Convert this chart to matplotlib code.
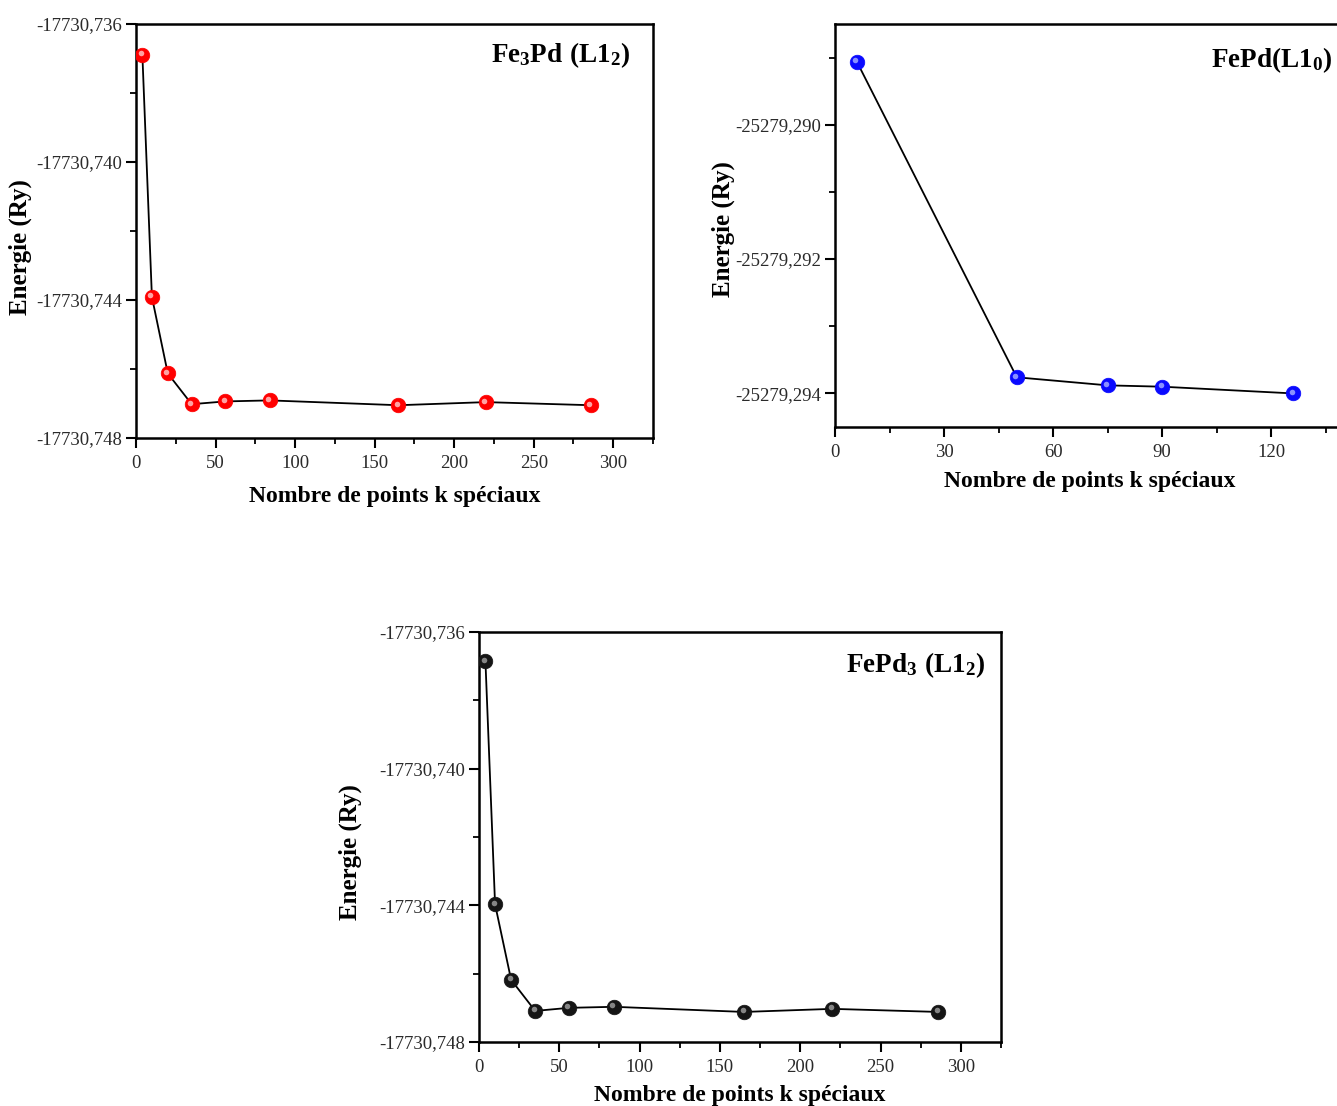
import matplotlib
matplotlib.use("Agg")
import matplotlib.pyplot as plt
from matplotlib.ticker import FixedLocator, FixedFormatter
from matplotlib.transforms import offset_copy

# ---------------- data ----------------
k_fe3pd = [4, 10, 20, 35, 56, 84, 165, 220, 286]
e_fe3pd = [-17730.73689, -17730.74391, -17730.74613, -17730.74702, -17730.74694,
           -17730.74691, -17730.74705, -17730.74696, -17730.74705]

k_fepd = [6, 50, 75, 90, 126]
e_fepd = [-25279.28906, -25279.29376, -25279.29388, -25279.29390, -25279.29400]

k_fepd3 = [4, 10, 20, 35, 56, 84, 165, 220, 286]
e_fepd3 = [-17730.73685, -17730.74397, -17730.74618, -17730.74709, -17730.74700,
           -17730.74697, -17730.74712, -17730.74703, -17730.74712]

ytick_a = [-17730.748, -17730.744, -17730.740, -17730.736]
ytick_a_labels = ["-17730,748", "-17730,744", "-17730,740", "-17730,736"]
yminor_a = [-17730.746, -17730.742, -17730.738]
xtick_a = [0, 50, 100, 150, 200, 250, 300]
xminor_a = [25, 75, 125, 175, 225, 275, 325]

ytick_b = [-25279.294, -25279.292, -25279.290]
ytick_b_labels = ["-25279,294", "-25279,292", "-25279,290"]
yminor_b = [-25279.293, -25279.291, -25279.289]
xtick_b = [0, 30, 60, 90, 120]
xminor_b = [15, 45, 75, 105, 135]

titles = [r"$Fe_3Pd\ (L1_2)$", r"$FePd(L1_0)$", r"$FePd_3\ (L1_2)$"]
xlabel = "Nombre de points k spéciaux"
ylabel = "Energie (Ry)"

# ---------------- style ----------------
plt.rcParams['font.family'] = ['Liberation Serif', 'DejaVu Serif']
plt.rcParams['mathtext.fontset'] = 'custom'
plt.rcParams['mathtext.rm'] = 'Liberation Serif:bold'
plt.rcParams['mathtext.bf'] = 'Liberation Serif:bold'
plt.rcParams['mathtext.it'] = 'Liberation Serif:bold'
plt.rcParams['mathtext.default'] = 'bf'

W, H = 1337, 1106
fig = plt.figure(figsize=(W / 100, H / 100), dpi=100)


def make_axes(rect, xs, ys, color, hl, xlim, ylim, xt, xm, yt, ytl, ym,
              title, tpos, ylab_x, ylab_y, xlab_y):
    ax = fig.add_axes(rect)
    ax.plot(xs, ys, color='black', lw=1.3, zorder=2)
    ax.plot(xs, ys, ls='none', marker='o', ms=10.5, mfc=color,
            mec=color, mew=0.5, zorder=3)
    tr = offset_copy(ax.transData, fig=fig, x=-1.5, y=1.5, units='dots')
    ax.plot(xs, ys, ls='none', marker='o', ms=4, mfc=hl, mec='none',
            alpha=0.85, transform=tr, zorder=4)
    ax.set_xlim(*xlim)
    ax.set_ylim(*ylim)
    ax.xaxis.set_major_locator(FixedLocator(xt))
    ax.xaxis.set_minor_locator(FixedLocator(xm))
    ax.yaxis.set_major_locator(FixedLocator(yt))
    ax.yaxis.set_major_formatter(FixedFormatter(ytl))
    ax.yaxis.set_minor_locator(FixedLocator(ym))
    ax.tick_params(which='major', direction='out', length=7, width=1.5,
                   labelsize=13.5, labelcolor='#2a2a2a')
    ax.tick_params(which='minor', direction='out', length=4, width=1.3)
    ax.tick_params(axis='y', which='major', pad=3)
    ax.tick_params(axis='x', which='major', pad=5)
    for s in ax.spines.values():
        s.set_linewidth(1.8)
    ax.set_xlabel(xlabel, fontsize=17, fontweight='bold')
    ax.set_ylabel(ylabel, fontsize=18, fontweight='bold')
    ax.yaxis.set_label_coords(ylab_x, ylab_y)
    ax.xaxis.set_label_coords(0.5, xlab_y)
    ax.text(tpos[0], tpos[1], title, transform=ax.transAxes, ha='right',
            va='center', fontsize=19.5)
    return ax


make_axes([136 / W, 1 - 438 / H, 517 / W, 414 / H], k_fe3pd, e_fe3pd,
          '#ff0000', '#ffc0c0', (0, 325), (-17730.748, -17730.736),
          xtick_a, xminor_a, ytick_a, ytick_a_labels, yminor_a,
          titles[0], (0.955, 0.925), -0.201, 0.46, -0.115)

make_axes([835 / W, 1 - 427 / H, 509 / W, 403 / H], k_fepd, e_fepd,
          '#0a0aff', '#a0a8ff', (0, 140), (-25279.2945, -25279.2885),
          xtick_b, xminor_b, ytick_b, ytick_b_labels, yminor_b,
          titles[1], (0.976, 0.91), -0.196, 0.49, -0.11)

make_axes([479 / W, 1 - 1042 / H, 522 / W, 410 / H], k_fepd3, e_fepd3,
          '#151515', '#9a9a9a', (0, 325), (-17730.748, -17730.736),
          xtick_a, xminor_a, ytick_a, ytick_a_labels, yminor_a,
          titles[2], (0.969, 0.92), -0.224, 0.463, -0.105)

fig.savefig("out.png", dpi=100)
